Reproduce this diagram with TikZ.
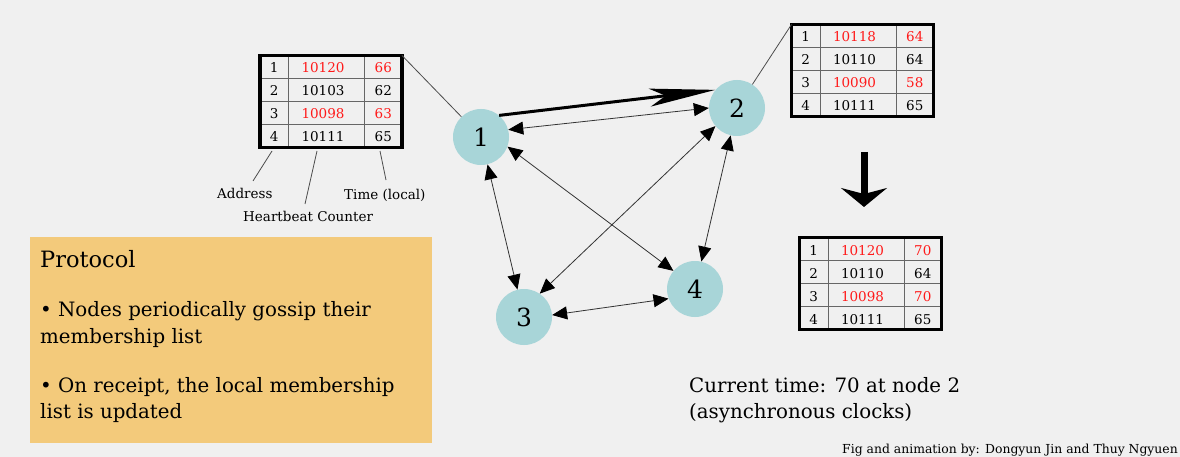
\documentclass[tikz,border=0pt]{standalone}
\usepackage{fontspec}
\setmainfont{DejaVu Serif}
\usetikzlibrary{arrows.meta,calc}
\definecolor{bgc}{HTML}{F0F0F0}
\definecolor{nodeteal}{HTML}{A8D5D8}
\definecolor{protofill}{HTML}{F3CA7B}
\definecolor{tred}{HTML}{FF1A1A}
\tikzset{
 peer/.style={circle, fill=nodeteal, minimum size=56pt, inner sep=0pt, font=\fontsize{25}{30}\selectfont},
 tabframe/.style={draw=black, line width=3.5pt, minimum width=142pt, minimum height=92pt, inner sep=0pt, outer sep=0pt, anchor=north west},
 gridl/.style={draw=black!60, line width=0.9pt},
 tcell/.style={anchor=base, inner sep=0pt, font=\fontsize{13.5}{16}\selectfont},
 gedge/.style={draw=black!80, line width=0.8pt, {Triangle[length=15pt,width=13pt,color=black]}-{Triangle[length=15pt,width=13pt,color=black]}},
 ledline/.style={draw=black!70, line width=0.8pt},
 lbl/.style={anchor=base west, inner sep=0pt, font=\fontsize{13.5}{17}\selectfont},
 ptext/.style={anchor=base west, inner sep=0pt, font=\fontsize{19.8}{26}\selectfont},
}
\newcommand\mtable[3]{%
  \draw[gridl] (#2+28.5,#3) -- (#2+28.5,#3+92);
  \draw[gridl] (#2+104.5,#3) -- (#2+104.5,#3+92);
  \foreach \r in {1,2,3} {\draw[gridl] (#2,#3+23*\r) -- (#2+142,#3+23*\r);}
  \node[tabframe] (#1) at (#2,#3) {};
}
\newcommand\mrow[6]{%
  \node[tcell] (#1r#2a) at ($(#1.north west)+(14.25,17.5+23*#2)$) {#3};
  \node[tcell,text=#6] (#1r#2b) at ($(#1.north west)+(63,17.5+23*#2)$) {#4};
  \node[tcell,text=#6] (#1r#2c) at ($(#1.north west)+(123.25,17.5+23*#2)$) {#5};
}
\begin{document}
\begin{tikzpicture}[x=1pt,y=-1pt]
\useasboundingbox (0,0) rectangle (1180,457);
\fill[bgc] (0,0) rectangle (1180,457);

% tables
\mtable{T1}{260}{55.5}
\mrow{T1}{0}{1}{10120}{66}{tred}
\mrow{T1}{1}{2}{10103}{62}{black}
\mrow{T1}{2}{3}{10098}{63}{tred}
\mrow{T1}{3}{4}{10111}{65}{black}

\mtable{T2}{791.5}{24.5}
\mrow{T2}{0}{1}{10118}{64}{tred}
\mrow{T2}{1}{2}{10110}{64}{black}
\mrow{T2}{2}{3}{10090}{58}{tred}
\mrow{T2}{3}{4}{10111}{65}{black}

\mtable{T3}{799.5}{237.5}
\mrow{T3}{0}{1}{10120}{70}{tred}
\mrow{T3}{1}{2}{10110}{64}{black}
\mrow{T3}{2}{3}{10098}{70}{tred}
\mrow{T3}{3}{4}{10111}{65}{black}

% peers
\node[peer] (n1) at (481,137) {1};
\node[peer] (n2) at (737,108) {2};
\node[peer] (n3) at (524,317) {3};
\node[peer] (n4) at (695,289) {4};

% links from tables to peers
\draw[ledline] (T1.north east) -- (n1);
\draw[ledline] (n2) -- (T2.north west);

% edges
\draw[gedge] (n1.15) -- (n2.180);
\draw[gedge] (n1) -- (n3);
\draw[gedge] (n1.-20) -- (n4.140);
\draw[gedge] (n2.-140) -- (n3.56);
\draw[gedge] (n2) -- (n4);
\draw[gedge] (n3.4) -- (n4.200);
\draw[line width=3pt, -{Stealth[length=66pt,width=18pt,inset=16pt]}] (n1.50) -- (n2.140);

% big down arrow
\coordinate (dtop) at (864,152);
\coordinate (dtip) at (864,207);
\draw[line width=7pt, -{Stealth[length=19pt,width=46pt,inset=6pt]}] (dtop) -- (dtip);

% table labels
\node[lbl] (laddr) at (217,199) {Address};
\node[lbl] (lhb) at (243,222) {Heartbeat Counter};
\node[lbl] (ltime) at (344,200) {Time (local)};
\coordinate (a1) at (272,151);
\coordinate (a2) at (253,181);
\coordinate (b1) at (317,151);
\coordinate (b2) at (305,204);
\coordinate (c1) at (380,151);
\coordinate (c2) at (386,180);
\draw[ledline] (a1) -- (a2);
\draw[ledline] (b1) -- (b2);
\draw[ledline] (c1) -- (c2);

% protocol box
\node[fill=protofill, anchor=north west, minimum width=402pt, minimum height=206pt, inner sep=0pt] (proto) at (30,237) {};
\node[anchor=base west, inner sep=0pt, font=\fontsize{22.5}{28}\selectfont] (ptitle) at (40,267) {Protocol};
\node[ptext] (pb1a) at (40,316) {\textbullet{} Nodes periodically gossip their};
\node[ptext] (pb1b) at (40,343) {membership list};
\node[ptext] (pb2a) at (40,392) {\textbullet{} On receipt, the local membership};
\node[ptext] (pb2b) at (40,418) {list is updated};

% current time
\node[ptext] (cur1) at (689,392) {Current time: 70 at node 2};
\node[ptext] (cur2) at (689,418) {(asynchronous clocks)};

% credit
\node[anchor=base east, inner sep=0pt, font=\fontsize{12.4}{15}\selectfont] (credit) at (1178,453) {Fig and animation by: Dongyun Jin and Thuy Ngyuen};
\end{tikzpicture}
\end{document}
